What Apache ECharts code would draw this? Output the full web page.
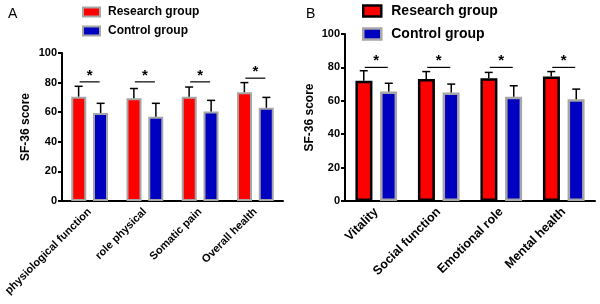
<!DOCTYPE html>
<html>
<head>
<meta charset="utf-8">
<script src="https://cdn.jsdelivr.net/npm/echarts@6/dist/echarts.min.js"></script>
<style>
  html, body { margin: 0; padding: 0; background: #fff; }
  #chart { width: 600px; height: 304px; }
</style>
</head>
<body>
<div id="chart"></div>
<script>
// panel A
var catsA = ['physiological function', 'role physical', 'Somatic pain', 'Overall health'];
var researchA = [70.5, 69.5, 70.5, 73.5];
var researchErrA = [7, 6.5, 6.5, 6.5];
var controlA = [59.5, 57, 60.5, 63];
var controlErrA = [6.5, 9, 7.5, 7];
var sigA = [80.5, 80.5, 80.5, 83];

// panel B
var catsB = ['Vitality', 'Social function', 'Emotional role', 'Mental health'];
var researchB = [72, 73, 73.5, 74.5];
var researchErrB = [6, 4.5, 3.5, 3];
var controlB = [65.5, 65, 62.5, 61];
var controlErrB = [5, 5, 6.5, 6];
var sigB = [80, 80, 80, 80];

var yTicks = [0, 20, 40, 60, 80, 100];

var FONT = 'Arial, "Liberation Sans", sans-serif';
var RED = '#ff0000';
var BLUE = '#0000c0';
var GRAY = '#a6a6a6';

function errSeries(name, vals, errs, grid, offset) {
  return {
    type: 'custom',
    xAxisIndex: grid, yAxisIndex: grid,
    z: 5,
    data: vals.map(function (v, i) { return [i, v, errs[i]]; }),
    renderItem: function (params, api) {
      var base = api.coord([api.value(0), api.value(1)]);
      var top = api.coord([api.value(0), api.value(1) + api.value(2)]);
      var x = base[0] + offset;
      return {
        type: 'group',
        children: [
          { type: 'line', shape: { x1: x, y1: base[1], x2: x, y2: top[1] }, style: { stroke: '#000', lineWidth: 1.5 } },
          { type: 'line', shape: { x1: x - 4, y1: top[1], x2: x + 4, y2: top[1] }, style: { stroke: '#000', lineWidth: 1.5 } }
        ]
      };
    }
  };
}

function sigSeries(levels, grid, half) {
  return {
    type: 'custom',
    xAxisIndex: grid, yAxisIndex: grid,
    z: 5,
    data: levels.map(function (v, i) { return [i, v]; }),
    renderItem: function (params, api) {
      var p = api.coord([api.value(0), api.value(1)]);
      return {
        type: 'group',
        children: [
          { type: 'line', shape: { x1: p[0] - half, y1: p[1], x2: p[0] + half, y2: p[1] }, style: { stroke: '#000', lineWidth: 1.2 } },
          { type: 'text', style: { text: '*', x: p[0], y: p[1] + 1, textAlign: 'center', textVerticalAlign: 'bottom', fontSize: 15, fontWeight: 'bold', fontFamily: FONT, fill: '#000' } }
        ]
      };
    }
  };
}

function xAxisFor(cats, grid, fs) {
  return {
    type: 'category', gridIndex: grid, data: cats,
    axisLine: { lineStyle: { color: '#000', width: 2 } },
    axisTick: { alignWithLabel: true, length: 4, lineStyle: { color: '#000', width: 2 } },
    axisLabel: { rotate: 45, color: '#000', fontWeight: 'bold', fontSize: fs, fontFamily: FONT, margin: 9, interval: 0 }
  };
}

function yAxisFor(grid, gap) {
  return {
    type: 'value', gridIndex: grid, min: 0, max: 100, interval: 20,
    name: 'SF-36 score', nameLocation: 'middle', nameRotate: 90, nameGap: gap,
    nameTextStyle: { color: '#000', fontWeight: 'bold', fontSize: 12, fontFamily: FONT },
    splitLine: { show: false },
    axisLine: { show: true, lineStyle: { color: '#000', width: 2 } },
    axisTick: { show: true, length: 4, lineStyle: { color: '#000', width: 2 } },
    axisLabel: {
      color: '#000', fontWeight: 'bold', fontSize: 11, fontFamily: FONT, margin: 5,
      formatter: function (v) { return yTicks.indexOf(v) >= 0 ? String(v) : ''; }
    }
  };
}

var chart = echarts.init(document.getElementById('chart'));
chart.setOption({
  animation: false,
  title: [
    { text: 'A', left: 3, top: 2, textStyle: { fontSize: 14, fontWeight: 'normal', color: '#000', fontFamily: FONT } },
    { text: 'B', left: 301, top: 2, textStyle: { fontSize: 14, fontWeight: 'normal', color: '#000', fontFamily: FONT } }
  ],
  legend: [
    {
      left: 82, top: 6, padding: 0, orient: 'vertical', itemWidth: 17, itemHeight: 9, itemGap: 7,
      textStyle: { fontSize: 12, fontWeight: 'bold', color: '#000', fontFamily: FONT, padding: [0, 0, 0, 3] },
      data: [
        { name: 'Research group', icon: 'rect', itemStyle: { color: RED, borderColor: GRAY, borderWidth: 2 } },
        { name: 'Control group', icon: 'rect', itemStyle: { color: BLUE, borderColor: GRAY, borderWidth: 2 } }
      ]
    },
    {
      left: 362, top: 4, padding: 0, orient: 'vertical', itemWidth: 18, itemHeight: 11, itemGap: 9,
      textStyle: { fontSize: 14, fontWeight: 'bold', color: '#000', fontFamily: FONT, padding: [0, 0, 0, 5] },
      data: [
        { name: 'Research group', icon: 'rect', itemStyle: { color: RED, borderColor: '#000', borderWidth: 2.5 } },
        { name: 'Control group', icon: 'rect', itemStyle: { color: BLUE, borderColor: GRAY, borderWidth: 2.5 } }
      ]
    }
  ],
  grid: [
    { left: 62, right: 317, top: 53, bottom: 103 },
    { left: 345, right: 5, top: 34, bottom: 103 }
  ],
  xAxis: [xAxisFor(catsA, 0, 11), xAxisFor(catsB, 1, 12.5)],
  yAxis: [yAxisFor(0, 30), yAxisFor(1, 29)],
  series: [
    {
      name: 'Research group', type: 'bar', xAxisIndex: 0, yAxisIndex: 0,
      data: researchA, barWidth: 15, barGap: '45%',
      itemStyle: { color: RED, borderColor: GRAY, borderWidth: 2 }
    },
    {
      name: 'Control group', type: 'bar', xAxisIndex: 0, yAxisIndex: 0,
      data: controlA, barWidth: 15,
      itemStyle: { color: BLUE, borderColor: GRAY, borderWidth: 2 }
    },
    {
      name: 'Research group', type: 'bar', xAxisIndex: 1, yAxisIndex: 1,
      data: researchB, barWidth: 17, barGap: '45%',
      itemStyle: { color: RED, borderColor: '#000', borderWidth: 2.5 }
    },
    {
      name: 'Control group', type: 'bar', xAxisIndex: 1, yAxisIndex: 1,
      data: controlB, barWidth: 17,
      itemStyle: { color: BLUE, borderColor: GRAY, borderWidth: 2.5 }
    },
    errSeries('errRA', researchA, researchErrA, 0, -11),
    errSeries('errCA', controlA, controlErrA, 0, 11),
    errSeries('errRB', researchB, researchErrB, 1, -12.5),
    errSeries('errCB', controlB, controlErrB, 1, 12.5),
    sigSeries(sigA, 0, 10),
    sigSeries(sigB, 1, 11.5)
  ]
});
</script>
</body>
</html>
